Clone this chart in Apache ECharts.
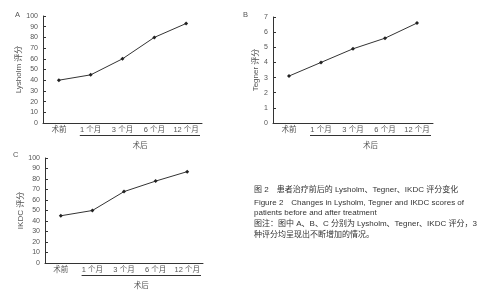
<!DOCTYPE html>
<html>
<head>
<meta charset="utf-8">
<script src="https://cdn.jsdelivr.net/npm/echarts@6/dist/echarts.min.js"></script>
<style>
html,body{margin:0;padding:0;background:#fff;}
#main{width:481px;height:300px;}
</style>
</head>
<body>
<div id="main"></div>
<script>
var categories = ['术前', '1 个月', '3 个月', '6 个月', '12 个月'];
var lysholm = [40, 45, 60, 80, 93];
var tegner = [3.1, 4.0, 4.9, 5.6, 6.6];
var ikdc = [45, 50, 68, 78, 87];
var afterLabel = '术后';
var captionLines = [
    '图 2　患者治疗前后的 Lysholm、Tegner、IKDC 评分变化',
    'Figure 2　Changes in Lysholm, Tegner and IKDC scores of',
    'patients before and after treatment',
    '图注：图中 A、B、C 分别为 Lysholm、Tegner、IKDC 评分，3',
    '种评分均呈现出不断增加的情况。'
];

var font = 'Liberation Sans, Arial, Noto Sans CJK SC, sans-serif';
var txtColor = '#555';
var lineColor = '#333';

function xAx(gi){
    return {
        type: 'category', gridIndex: gi, data: categories,
        boundaryGap: true,
        axisLine: {lineStyle: {color: lineColor, width: 1}},
        axisTick: {inside: true, length: 3, alignWithLabel: false, lineStyle: {color: lineColor}},
        axisLabel: {color: txtColor, fontSize: 7.5, fontFamily: font, margin: 3, interval: 0}
    };
}
function yAx(gi, max, interval, name, gap){
    return {
        type: 'value', gridIndex: gi, min: 0, max: max, interval: interval,
        name: name, nameLocation: 'middle', nameGap: gap,
        nameTextStyle: {color: txtColor, fontSize: 8, fontFamily: font},
        splitLine: {show: false},
        axisLine: {show: true, lineStyle: {color: lineColor, width: 1}},
        axisTick: {show: true, inside: true, length: 3, lineStyle: {color: lineColor}},
        axisLabel: {color: txtColor, fontSize: 7, fontFamily: font, margin: 5}
    };
}
function ser(i, data){
    return {
        type: 'line', xAxisIndex: i, yAxisIndex: i, data: data,
        symbol: 'diamond', symbolSize: 4,
        lineStyle: {color: lineColor, width: 1},
        itemStyle: {color: '#222'},
        silent: true, animation: false
    };
}

var chart = echarts.init(document.getElementById('main'), null, {renderer: 'canvas'});
chart.setOption({
    animation: false,
    grid: [
        {left: 43, top: 16, width: 159, height: 107},
        {left: 273, top: 17, width: 160, height: 106},
        {left: 45, top: 158, width: 158, height: 105}
    ],
    xAxis: [xAx(0), xAx(1), xAx(2)],
    yAxis: [
        yAx(0, 100, 10, 'Lysholm 评分', 19),
        yAx(1, 7, 1, 'Tegner 评分', 11),
        yAx(2, 100, 10, 'IKDC 评分', 20)
    ],
    series: [ser(0, lysholm), ser(1, tegner), ser(2, ikdc)]
});

// bracket line under the post-op labels and its "术后" text
var els = [];
[0, 1, 2].forEach(function(i){
    var p1 = chart.convertToPixel({xAxisIndex: i}, categories[1]);
    var p2 = chart.convertToPixel({xAxisIndex: i}, categories[2]);
    var pl = chart.convertToPixel({xAxisIndex: i}, categories[categories.length - 1]);
    var bw = p2 - p1;
    var y0 = chart.convertToPixel({yAxisIndex: i}, 0);
    var x1 = p1 - bw / 2 + 5, x2 = pl + bw / 2 - 2;
    els.push({type: 'line', shape: {x1: x1, y1: y0 + 12.5, x2: x2, y2: y0 + 12.5},
        style: {stroke: lineColor, lineWidth: 1}, silent: true});
    els.push({type: 'text', x: (x1 + x2) / 2, y: y0 + 23,
        style: {text: afterLabel, fill: txtColor, fontSize: 7.5, fontFamily: font, align: 'center', verticalAlign: 'middle'}});
});
els.push({type: 'text', x: 15, y: 15, style: {text: 'A', fill: txtColor, fontSize: 7.5, fontFamily: font, verticalAlign: 'middle'}});
els.push({type: 'text', x: 243, y: 15, style: {text: 'B', fill: txtColor, fontSize: 7.5, fontFamily: font, verticalAlign: 'middle'}});
els.push({type: 'text', x: 13, y: 155, style: {text: 'C', fill: txtColor, fontSize: 7.5, fontFamily: font, verticalAlign: 'middle'}});
var capY = [190, 203, 213, 224, 235];
captionLines.forEach(function(t, k){
    els.push({type: 'text', x: 254, y: capY[k],
        style: {text: t, fill: '#333', fontSize: 8, fontFamily: 'Liberation Sans, Noto Sans CJK SC, sans-serif', verticalAlign: 'middle'}});
});
chart.setOption({graphic: els});
</script>
</body>
</html>
